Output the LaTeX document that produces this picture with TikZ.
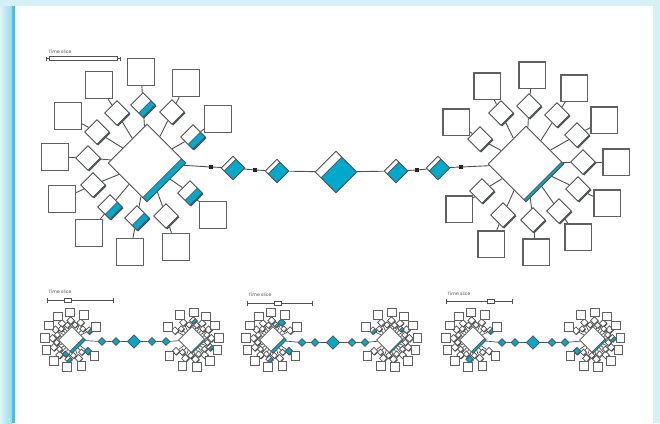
\documentclass[tikz,border=0pt]{standalone}
\usepackage{fontspec}
\newfontfamily\tsfont{Poppins}
\usetikzlibrary{shapes.geometric,calc}
\definecolor{tblue}{RGB}{0,168,204}
\definecolor{lgray}{RGB}{80,80,80}
\definecolor{bgray}{RGB}{96,96,96}
\definecolor{sgray}{RGB}{72,82,88}
\definecolor{bgcyan}{RGB}{214,241,246}
\definecolor{stripl}{RGB}{222,244,248}
\definecolor{stripm}{RGB}{150,220,235}
\definecolor{stripd}{RGB}{70,194,222}
\tikzset{
  band/.style={path picture={%
    \ifdim#1pt>0pt
      \fill[tblue] (path picture bounding box.east) -- (path picture bounding box.south)
        -- ($(path picture bounding box.south)!#1!(path picture bounding box.west)$)
        -- ($(path picture bounding box.east)!#1!(path picture bounding box.north)$) -- cycle;
      \draw[lgray, line width=0.6pt]
        ($(path picture bounding box.south)!#1!(path picture bounding box.west)$)
        -- ($(path picture bounding box.east)!#1!(path picture bounding box.north)$);
    \fi}},
  dia/.style={diamond, aspect=1, draw=lgray, line width=0.95pt, fill=white, inner sep=0pt,
    minimum width=#1, minimum height=#1},
  sdia/.style={dia=#1, preaction={fill=sgray, transform canvas={shift={(1.2pt,-1.2pt)}}}},
  tdia/.style={dia=#1, line width=0.7pt, preaction={fill=sgray, transform canvas={shift={(0.7pt,-0.7pt)}}}},
  cdia/.style={diamond, aspect=1, draw=lgray, line width=0.65pt, fill=tblue, inner sep=0pt,
    minimum width=#1, minimum height=#1},
  sqbox/.style={draw=bgray, line width=1.5pt, fill=white, inner sep=0pt, minimum size=#1},
  tbox/.style={draw=bgray, line width=1.0pt, fill=white, inner sep=0pt, minimum size=#1},
  conn/.style={draw=lgray, line width=0.9pt},
  tconn/.style={draw=lgray, line width=0.7pt},
  blk/.style={fill=black!85, inner sep=0pt, minimum size=3.6pt},
  ttext/.style={font=\tsfont\fontsize{4.6}{5}\selectfont, text=lgray, inner sep=0pt},
  slicebox/.style={draw=lgray, line width=0.65pt, fill=white, inner sep=0pt, minimum width=#1, minimum height=4pt},
  tick/.style={draw=lgray, line width=0.65pt}
}
% small cluster: #1 x, #2 y, #3 prefix, #4 centre band, #5 outer list, #6 inner list
\newcommand\smallcl[6]{%
  \node[dia=27pt, line width=0.8pt, band=#4] (#3c) at (#1,#2) {};
  \foreach \a/\f [count=\i] in {#5} {
    \node[tdia=7.8pt, band=\f] (#3d\i) at ($(#1,#2)+(\a:19.5)$) {};
    \node[tbox=8.8pt] (#3b\i) at ($(#1,#2)+(\a:27.5)$) {};
    \draw[tconn] (#3d\i) -- (#3c);
    \draw[tconn] (#3b\i) -- (#3d\i);
  }
  \foreach \a/\f [count=\i] in {#6} {
    \node[tdia=6.4pt, band=\f] (#3e\i) at ($(#1,#2)+(\a:15.5)$) {};
    \draw[tconn] (#3e\i) -- (#3c);
  }
}
% small chain: #1 prefix, #2 y, #3..#7 x positions
\newcommand\smallchain[7]{%
  \node[cdia=8pt] (#1k1) at (#3,#2) {};
  \node[cdia=8pt] (#1k2) at (#4,#2) {};
  \node[cdia=13.5pt] (#1k3) at (#5,#2) {};
  \node[cdia=8pt] (#1k4) at (#6,#2) {};
  \node[cdia=8pt] (#1k5) at (#7,#2) {};
  \draw[tconn] (#1Lc) -- (#1k1) -- (#1k2) -- (#1k3) -- (#1k4) -- (#1k5) -- (#1Rc);
}
% small time slice: #1 prefix, #2 left x, #3 right x, #4 y, #5 box x
\newcommand\tslice[5]{%
  \node[ttext, anchor=south west] (#1tt) at ($(#2,#4)+(1.5,-6)$) {Time slice};
  \coordinate (#1t0) at (#2,#4);
  \coordinate (#1t1) at (#3,#4);
  \node[slicebox=7pt] (#1tb) at (#5,#4) {};
  \draw[tick] (#1t0) -- (#1tb) -- (#1t1);
  \draw[tick] ($(#1t0)+(0,-2.5)$) -- ($(#1t0)+(0,2.5)$);
  \draw[tick] ($(#1t1)+(0,-2.5)$) -- ($(#1t1)+(0,2.5)$);
}
\begin{document}
\begin{tikzpicture}[x=1pt,y=-1pt]
\useasboundingbox (0,0) rectangle (660,423);
% background
\fill[bgcyan] (0,0) rectangle (660,423);
\shade[left color=stripl, right color=stripm] (0,6) rectangle (12,423);
\fill[stripd] (12,6) rectangle (14.5,423);
\fill[white] (14.5,6) rectangle (653,423);

% top time slice
\node[ttext, anchor=south west] (tt) at (48.5,53.5) {Time slice};
\node[slicebox=68pt] (tb) at (83,58.5) {};
\coordinate (tl) at (46.5,58.5);
\coordinate (tr) at (120,58.5);
\draw[tick] (tl) -- (tb) -- (tr);
\draw[tick] ($(tl)+(0,-2)$) -- ($(tl)+(0,2)$);
\draw[tick] ($(tr)+(0,-2)$) -- ($(tr)+(0,2)$);

% big left cluster
\node[dia=78pt, band=0.11] (L0) at (147,163) {};
\foreach \dx/\dy/\bx/\by/\f [count=\i] in {117/113/99/85/0, 143/105/141/72/0.35,
   172/112/186/83/0, 193/137/218/119/0.4, 97/132/68/116/0, 88/158/55/157/0,
   93/185/62/199/0, 110/207/89/233/0.4, 137/218/130/252/0.4, 166/216/176/247/0,
   190/193/213/215/0.4} {
  \node[sdia=25pt, band=\f] (Ld\i) at (\dx,\dy) {};
  \node[sqbox=27pt] (Lb\i) at (\bx,\by) {};
  \draw[conn] (Ld\i) -- (L0);
  \draw[conn] (Lb\i) -- (Ld\i);
}

% big right cluster
\node[dia=76pt, band=0.055] (R0) at (526,164) {};
\foreach \dx/\dy/\bx/\by [count=\i] in {501/113/487/86, 529/106/532/75, 557/115/574/88,
   577/135/604/120, 583/162/616/162, 578/189/607/203, 559/211/578/237, 533/220/536/252,
   503/215/491/244, 482/191/459/209, 480/139/456/122} {
  \node[sdia=25pt] (Rd\i) at (\dx,\dy) {};
  \node[sqbox=26.5pt] (Rb\i) at (\bx,\by) {};
  \draw[conn] (Rd\i) -- (R0);
  \draw[conn] (Rb\i) -- (Rd\i);
}

% big chain
\node[blk] (s1) at (211,167) {};
\node[dia=24pt, band=0.75] (c1) at (233,168) {};
\node[blk] (s2) at (255,170) {};
\node[dia=24pt, band=0.75] (c2) at (277,171) {};
\node[dia=42pt, band=0.72] (M) at (336,172) {};
\node[dia=24pt, band=0.75] (c3) at (396,171) {};
\node[blk] (s3) at (417,170) {};
\node[dia=24pt, band=0.75] (c4) at (438,168) {};
\node[blk] (s4) at (461,167) {};
\draw[conn] (L0) -- (s1) -- (c1) -- (s2) -- (c2) -- (M) -- (c3) -- (s3) -- (c4) -- (s4) -- (R0);

% ---- small set 1
\tslice{a}{47}{113}{300}{68}
\smallcl{72}{340}{aL}{0.15}
  {-175/0,-148/0,-121/0,-94/0,-64/0,-29/0.5,35/1,70/0,100/0.5,130/0,158/0}
  {-161/0,-134/0,-107/0,-79/0,-46/0,52/0,85/0,115/1,144/0,171/0}
\smallcl{192}{340}{aR}{0.07}
  {-5/0,-32/0,-59/0,-86/0.5,-116/0,-151/0,145/0,110/0,80/0,50/0,22/0.5}
  {-19/0,-46/0,-73/0,-101/0,-134/0,128/0,95/0,65/0,36/0,9/0}
\smallchain{a}{341.5}{102}{116}{134}{152}{166}

% ---- small set 2
\tslice{b}{247}{312}{303}{278}
\smallcl{273}{340}{bL}{0.15}
  {-175/0,-148/0,-121/0,-94/0,-64/1,-29/0,35/1,70/0,100/0.5,130/0,158/0}
  {-161/0,-134/0,-107/0,-79/0.5,-46/0,52/0,85/0,115/0,144/0,171/0}
\smallcl{390}{340}{bR}{0.07}
  {-5/0,-32/0,-59/0,-86/0,-116/0,-151/0.5,145/0,110/0,80/0,50/0,22/0}
  {-19/0,-46/0.5,-73/0,-101/0,-134/0,128/0,95/0,65/0,36/0,9/0}
\smallchain{b}{342.5}{302}{315}{333}{352}{365}

% ---- small set 3
\tslice{c}{446}{512}{301.5}{491}
\smallcl{473}{340}{cL}{0.12}
  {-175/0,-148/0,-121/0,-94/0,-64/0,-29/0.5,35/0,70/0,100/1,130/0,158/0}
  {-161/0,-134/0,-107/0,-79/0,-46/0,52/0,85/0,115/0,144/0,171/0}
\smallcl{593}{340}{cR}{0.09}
  {-5/0.5,-32/0,-59/0,-86/0,-116/0,-151/0,145/1,110/0,80/0,50/0,22/0}
  {-19/0,-46/0,-73/0,-101/0,-134/0,128/0,95/0,65/0,36/0,9/0}
\smallchain{c}{342.5}{502}{515}{533}{552}{565}
\end{tikzpicture}
\end{document}
